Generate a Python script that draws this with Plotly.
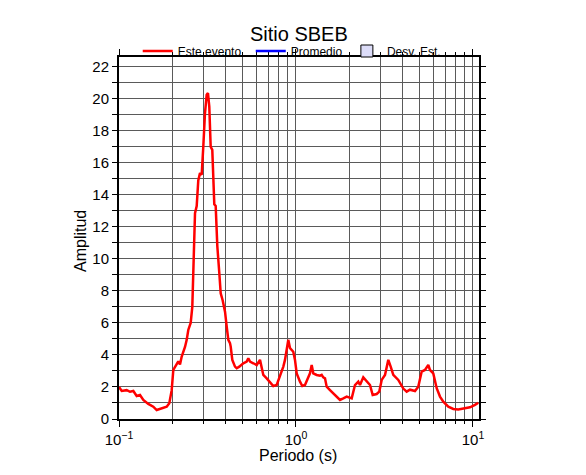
import plotly.graph_objects as go

periodo = [0.1000, 0.1036, 0.1105, 0.1154, 0.1205, 0.1259, 0.1314, 0.1372, 0.1464, 0.1562,
           0.1633, 0.1743, 0.1860, 0.1924, 0.1985, 0.2027, 0.2118, 0.2163, 0.2211, 0.2261,
           0.2360, 0.2413, 0.2463, 0.2541, 0.2595, 0.2629, 0.2663, 0.2688, 0.2748, 0.2805,
           0.2868, 0.2932, 0.2994, 0.3061, 0.3129, 0.3182, 0.3237, 0.3296, 0.3366, 0.3410,
           0.3455, 0.3518, 0.3593, 0.3688, 0.3755, 0.3854, 0.3972, 0.4060, 0.4146, 0.4238,
           0.4277, 0.4367, 0.4424, 0.4523, 0.4624, 0.4783, 0.5038, 0.5266, 0.5377, 0.5497,
           0.5740, 0.5998, 0.6261, 0.6401, 0.6536, 0.6831, 0.7131, 0.7444, 0.7780, 0.8123,
           0.8480, 0.8666, 0.8860, 0.9046, 0.9250, 0.9655, 0.9871, 1.0092, 1.0535, 1.0855,
           1.1241, 1.1643, 1.1998, 1.2266, 1.2523, 1.3088, 1.3665, 1.3970, 1.4263, 1.4582,
           1.4908, 1.5563, 1.6246, 1.6980, 1.7728, 1.8507, 1.9342, 2.0640, 2.1544, 2.2491,
           2.2993, 2.4001, 2.5087, 2.6190, 2.7123, 2.8571, 2.9554, 3.0497, 3.1833, 3.2545,
           3.3232, 3.4277, 3.5457, 3.7844, 3.8690, 4.0386, 4.2210, 4.4065, 4.7022, 4.9091,
           5.1310, 5.3560, 5.5912, 5.7163, 5.9663, 6.2356, 6.5100, 6.7959, 7.2530, 7.7407,
           8.2604, 9.0127, 9.6186, 10.264, 10.713]

amplitud = [2.00, 1.75, 1.80, 1.70, 1.75, 1.44, 1.50, 1.19, 0.94, 0.77,
            0.56, 0.67, 0.77, 0.98, 1.80, 3.06, 3.48, 3.60, 3.40, 3.90,
            4.50, 4.94, 5.56, 6.00, 7.00, 8.70, 11.20, 12.85, 13.30, 14.90,
            15.35, 15.25, 17.00, 19.10, 20.25, 20.35, 19.50, 17.00, 16.80, 14.90,
            13.40, 13.30, 10.80, 9.10, 7.85, 7.40, 6.70, 5.77, 4.94, 4.73,
            4.52, 3.69, 3.48, 3.27, 3.17, 3.27, 3.48, 3.58, 3.79, 3.58,
            3.48, 3.37, 3.69, 3.27, 2.75, 2.54, 2.33, 2.06, 2.12, 2.65,
            3.27, 3.69, 4.31, 4.94, 4.42, 4.20, 3.69, 2.85, 2.33, 2.06,
            2.12, 2.54, 2.85, 3.37, 2.85, 2.75, 2.70, 2.75, 2.60, 2.54,
            2.02, 1.81, 1.60, 1.40, 1.19, 1.29, 1.40, 1.29, 2.12, 2.33,
            2.12, 2.60, 2.33, 2.12, 1.50, 1.56, 1.71, 2.44, 2.75, 3.17,
            3.69, 3.27, 2.75, 2.44, 2.23, 1.90, 1.71, 1.83, 1.75, 2.02,
            2.96, 3.06, 3.37, 3.06, 2.85, 1.92, 1.40, 1.08, 0.77, 0.63,
            0.60, 0.67, 0.73, 0.88, 1.02]

x_major = [0.1, 1, 10]
x_major_text = ["10<sup>−1</sup>", "10<sup>0</sup>", "10<sup>1</sup>"]
x_minor = [0.2, 0.3, 0.4, 0.5, 0.6, 0.7, 0.8, 0.9, 2, 3, 4, 5, 6, 7, 8, 9]

FONT = "Liberation Sans, Arial, Helvetica, sans-serif"
GRID = "#5a5a5a"
LEG_Y = 1 + 6 / 362

fig = go.Figure()
fig.add_trace(go.Scatter(x=periodo, y=amplitud, mode="lines", name="Este evento",
                         line=dict(color="#ff0000", width=2.5), legend="legend"))
fig.add_trace(go.Scatter(x=[None], y=[None], mode="lines", name="Promedio",
                         line=dict(color="#0000ff", width=2.5), legend="legend2"))
fig.add_trace(go.Scatter(x=[None], y=[None], mode="markers", name="Desv. Est.",
                         marker=dict(symbol="square", size=12, color="#dcdcf8",
                                     line=dict(color="black", width=1)), legend="legend3"))

leg_common = dict(orientation="h", xanchor="left", y=LEG_Y, yanchor="middle",
                  font=dict(size=12, family=FONT), bgcolor="rgba(0,0,0,0)", itemwidth=30)

fig.update_layout(
    width=586, height=475,
    margin=dict(l=119, r=107, t=57, b=56),
    paper_bgcolor="white", plot_bgcolor="white",
    font=dict(family=FONT, color="black"),
    title=dict(text="Sitio SBEB", x=0.51, xanchor="center", y=1 - 34 / 475, yanchor="middle",
               yref="container", font=dict(size=20, family=FONT)),
    legend=dict(x=0.052, **leg_common),
    legend2=dict(x=0.366, **leg_common),
    legend3=dict(x=0.633, **leg_common),
    showlegend=True,
    annotations=[
        dict(text="Periodo (s)", xref="paper", yref="paper", x=0.497, y=(419 - 455) / 362,
             xanchor="center", yanchor="middle", showarrow=False,
             font=dict(size=16, family=FONT)),
        dict(text="Amplitud", xref="paper", yref="paper", x=(80 - 119) / 360,
             y=(419 - 241) / 362, xanchor="center", yanchor="middle", textangle=-90,
             showarrow=False, font=dict(size=16, family=FONT)),
    ],
)

fig.update_xaxes(
    type="log", range=[-1, 1.034],
    tickmode="array", tickvals=x_major, ticktext=x_major_text,
    ticks="outside", ticklen=6, tickcolor="black", tickwidth=1,
    showgrid=True, gridcolor=GRID, gridwidth=1,
    minor=dict(tickmode="array", tickvals=x_minor, ticks="outside", ticklen=3,
               tickcolor="black", showgrid=True, gridcolor=GRID, gridwidth=1),
    showline=True, linecolor="black", linewidth=2, mirror="allticks",
    tickfont=dict(size=15, family=FONT),
    automargin=False, zeroline=False,
)

fig.update_yaxes(
    range=[0, 22.6], tickmode="linear", tick0=0, dtick=2,
    ticks="outside", ticklen=5, tickcolor="black", tickwidth=1,
    showgrid=True, gridcolor=GRID, gridwidth=1,
    minor=dict(dtick=1, ticks="outside", ticklen=5, tickcolor="black",
               showgrid=True, gridcolor=GRID, gridwidth=1),
    showline=True, linecolor="black", linewidth=2, mirror="allticks",
    tickfont=dict(size=15, family=FONT),
    automargin=False, zeroline=False,
)

fig.write_html("out.html", config={"displayModeBar": False},
               post_script="document.body.style.margin='0';document.body.style.overflow='hidden';")
